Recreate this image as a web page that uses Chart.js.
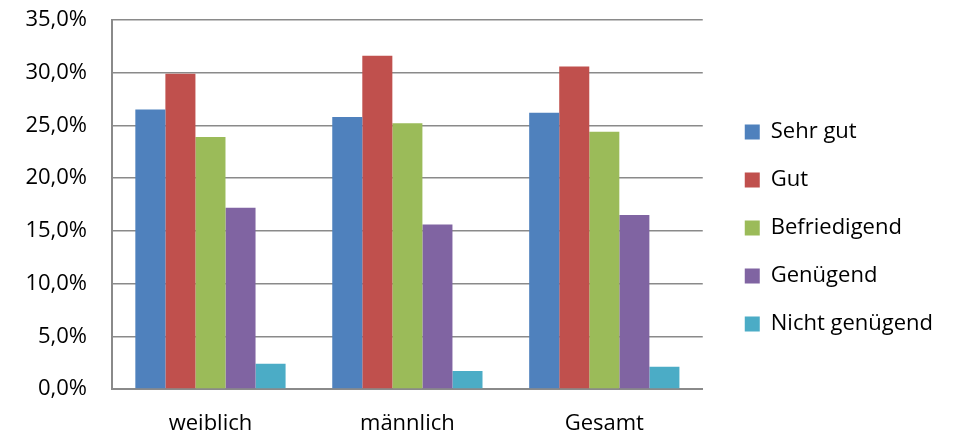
<!DOCTYPE html>
<html>
<head>
<meta charset="utf-8">
<script src="https://cdn.jsdelivr.net/npm/chart.js@4"></script>
<style>
  html, body { margin: 0; padding: 0; background: #fff; }
  #wrap { width: 955px; height: 436px; }
</style>
</head>
<body>
<div id="wrap"><canvas id="c" width="955" height="436"></canvas></div>
<script>
const categories = ["weiblich", "männlich", "Gesamt"];
const seriesNames = ["Sehr gut", "Gut", "Befriedigend", "Genügend", "Nicht genügend"];
const sehrGut = [26.5, 25.8, 26.2];
const gut = [29.9, 31.6, 30.6];
const befriedigend = [23.9, 25.2, 24.4];
const genuegend = [17.2, 15.6, 16.5];
const nichtGenuegend = [2.4, 1.7, 2.1];
const colors = ["#4F81BD", "#C0504D", "#9BBB59", "#8064A2", "#4BACC6"];
const yTicks = [0, 5, 10, 15, 20, 25, 30, 35];

const seriesValues = [sehrGut, gut, befriedigend, genuegend, nichtGenuegend];
const FONT = "'Open Sans', 'DejaVu Sans', sans-serif";

// shift the legend a little to the right of the plot area (gap as in the reference)
const legendShift = {
  id: 'legendShift',
  afterLayout(chart) {
    const lg = chart.legend;
    if (lg) { lg.left += 16; lg.right += 16; }
  }
};

const chart = new Chart(document.getElementById('c'), {
  type: 'bar',
  data: {
    labels: categories,
    datasets: seriesNames.map((n, i) => ({
      label: n,
      data: seriesValues[i],
      backgroundColor: colors[i],
      borderWidth: 0,
      categoryPercentage: 0.763,
      barPercentage: 1.0
    }))
  },
  plugins: [legendShift],
  options: {
    responsive: false,
    animation: false,
    events: [],
    layout: { padding: { top: 20, left: 0, right: 28, bottom: 0 } },
    plugins: {
      tooltip: { enabled: false },
      legend: {
        position: 'right',
        align: 'center',
        labels: {
          boxWidth: 15,
          boxHeight: 15,
          padding: 26,
          color: '#000',
          font: { family: FONT, size: 22 }
        }
      }
    },
    scales: {
      x: {
        grid: { display: false, drawTicks: false },
        border: { display: true, color: '#8a8a8a', width: 2 },
        ticks: { color: '#000', font: { family: FONT, size: 22 }, padding: 22 },
        afterFit: s => { s.height = 47; }
      },
      y: {
        min: 0, max: 35,
        afterBuildTicks: s => { s.ticks = yTicks.map(v => ({ value: v })); },
        grid: { color: '#8a8a8a', lineWidth: 1.5, drawTicks: true, tickLength: 25, tickColor: 'rgba(0,0,0,0)' },
        border: { display: true, color: '#8a8a8a', width: 2 },
        ticks: {
          color: '#000',
          padding: 0,
          font: { family: FONT, size: 22 },
          callback: v => v.toFixed(1).replace('.', ',') + '%'
        },
        afterFit: s => { s.width = 112; }
      }
    }
  }
});
</script>
</body>
</html>
